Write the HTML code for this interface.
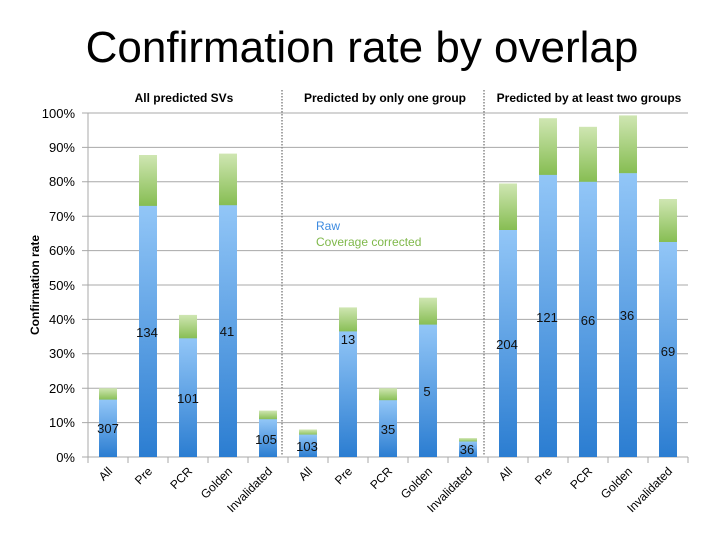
<!DOCTYPE html>
<html><head><meta charset="utf-8"><style>
html,body{margin:0;padding:0;background:#fff;}
svg{display:block;font-family:"Liberation Sans",Arial,sans-serif;}
</style></head><body>
<svg width="720" height="540" viewBox="0 0 720 540" xmlns="http://www.w3.org/2000/svg">
<defs>
<linearGradient id="b" x1="0" y1="0" x2="0" y2="1"><stop offset="0" stop-color="#92c6f7"/><stop offset="1" stop-color="#2b7dd1"/></linearGradient>
<linearGradient id="g" x1="0" y1="0" x2="0" y2="1"><stop offset="0" stop-color="#cfe6b2"/><stop offset="1" stop-color="#86bd52"/></linearGradient>
</defs>
<text x="362" y="62" text-anchor="middle" font-size="44" fill="#000">Confirmation rate by overlap</text>
<g stroke="#a8a8a8" stroke-width="1">
<line x1="82" y1="113" x2="688" y2="113"/><line x1="82" y1="147.4" x2="688" y2="147.4"/>
<line x1="82" y1="181.8" x2="688" y2="181.8"/><line x1="82" y1="216.2" x2="688" y2="216.2"/>
<line x1="82" y1="250.6" x2="688" y2="250.6"/><line x1="82" y1="285" x2="688" y2="285"/>
<line x1="82" y1="319.4" x2="688" y2="319.4"/><line x1="82" y1="353.8" x2="688" y2="353.8"/>
<line x1="82" y1="388.2" x2="688" y2="388.2"/><line x1="82" y1="422.6" x2="688" y2="422.6"/>
<line x1="88" y1="113" x2="88" y2="457"/>
<line x1="82" y1="457" x2="688" y2="457"/>
</g>
<g stroke="#a8a8a8">
<line x1="88" y1="457" x2="88" y2="463"/><line x1="128" y1="457" x2="128" y2="463"/><line x1="168" y1="457" x2="168" y2="463"/><line x1="208" y1="457" x2="208" y2="463"/><line x1="248" y1="457" x2="248" y2="463"/><line x1="288" y1="457" x2="288" y2="463"/><line x1="328" y1="457" x2="328" y2="463"/><line x1="368" y1="457" x2="368" y2="463"/><line x1="408" y1="457" x2="408" y2="463"/><line x1="448" y1="457" x2="448" y2="463"/><line x1="488" y1="457" x2="488" y2="463"/><line x1="528" y1="457" x2="528" y2="463"/><line x1="568" y1="457" x2="568" y2="463"/><line x1="608" y1="457" x2="608" y2="463"/><line x1="648" y1="457" x2="648" y2="463"/><line x1="688" y1="457" x2="688" y2="463"/>
</g>
<g font-size="13" fill="#000" text-anchor="end">
<text x="75" y="118">100%</text><text x="75" y="152">90%</text><text x="75" y="186">80%</text><text x="75" y="221">70%</text><text x="75" y="255">60%</text><text x="75" y="290">50%</text><text x="75" y="324">40%</text><text x="75" y="358">30%</text><text x="75" y="393">20%</text><text x="75" y="427">10%</text><text x="75" y="462">0%</text>
</g>
<text transform="translate(39,285) rotate(-90)" text-anchor="middle" font-size="12" font-weight="bold">Confirmation rate</text>
<g font-size="12" font-weight="bold" text-anchor="middle">
<text x="184" y="102">All predicted SVs</text>
<text x="385" y="102">Predicted by only one group</text>
<text x="589" y="102">Predicted by at least two groups</text>
</g>
<g fill="url(#g)">
<rect x="99" y="388.2" width="18" height="12"/><rect x="139" y="155" width="18" height="51"/><rect x="179" y="314.9" width="18" height="24"/><rect x="219" y="153.6" width="18" height="52"/><rect x="259" y="410.6" width="18" height="9"/>
<rect x="299" y="429.5" width="18" height="6"/><rect x="339" y="307.4" width="18" height="25"/><rect x="379" y="388.2" width="18" height="12.5"/><rect x="419" y="297.7" width="18" height="27.5"/><rect x="459" y="438.1" width="18" height="4"/>
<rect x="499" y="183.5" width="18" height="47"/><rect x="539" y="118.2" width="18" height="57"/><rect x="579" y="126.8" width="18" height="55.5"/><rect x="619" y="115.4" width="18" height="58"/><rect x="659" y="199" width="18" height="43.5"/>
</g>
<g fill="url(#b)">
<rect x="99" y="399.6" width="18" height="57.4"/><rect x="139" y="205.9" width="18" height="251.1"/><rect x="179" y="338.3" width="18" height="118.7"/><rect x="219" y="205.2" width="18" height="251.8"/><rect x="259" y="419.2" width="18" height="37.8"/>
<rect x="299" y="434.6" width="18" height="22.4"/><rect x="339" y="331.4" width="18" height="125.6"/><rect x="379" y="400.2" width="18" height="56.8"/><rect x="419" y="324.6" width="18" height="132.4"/><rect x="459" y="441.5" width="18" height="15.5"/>
<rect x="499" y="230" width="18" height="227"/><rect x="539" y="174.9" width="18" height="282.1"/><rect x="579" y="181.8" width="18" height="275.2"/><rect x="619" y="173.2" width="18" height="283.8"/><rect x="659" y="242" width="18" height="215"/>
</g>
<g stroke="#888" stroke-width="1.5" stroke-dasharray="1.5,1.5">
<line x1="282" y1="90" x2="282" y2="456"/><line x1="484" y1="90" x2="484" y2="456"/>
</g>
<g font-size="13" fill="#111" text-anchor="middle">
<text x="108" y="433">307</text><text x="147" y="337">134</text><text x="188" y="403">101</text><text x="227" y="336">41</text><text x="266" y="444">105</text>
<text x="307" y="451">103</text><text x="348" y="344">13</text><text x="388" y="434">35</text><text x="427" y="396">5</text><text x="467" y="454">36</text>
<text x="507" y="349">204</text><text x="547" y="322">121</text><text x="588" y="325">66</text><text x="627" y="320">36</text><text x="668" y="356">69</text>
</g>
<text x="316" y="230" font-size="12" fill="#3d8be0">Raw</text>
<text x="316" y="246" font-size="12" fill="#7fb84a">Coverage corrected</text>
<g font-size="12" fill="#000" text-anchor="end">
<text transform="translate(113,472) rotate(-45)">All</text>
<text transform="translate(153,472) rotate(-45)">Pre</text>
<text transform="translate(193,472) rotate(-45)">PCR</text>
<text transform="translate(233,472) rotate(-45)">Golden</text>
<text transform="translate(273,472) rotate(-45)">Invalidated</text>
<text transform="translate(313,472) rotate(-45)">All</text>
<text transform="translate(353,472) rotate(-45)">Pre</text>
<text transform="translate(393,472) rotate(-45)">PCR</text>
<text transform="translate(433,472) rotate(-45)">Golden</text>
<text transform="translate(473,472) rotate(-45)">Invalidated</text>
<text transform="translate(513,472) rotate(-45)">All</text>
<text transform="translate(553,472) rotate(-45)">Pre</text>
<text transform="translate(593,472) rotate(-45)">PCR</text>
<text transform="translate(633,472) rotate(-45)">Golden</text>
<text transform="translate(673,472) rotate(-45)">Invalidated</text>
</g>
</svg>
</body></html>
